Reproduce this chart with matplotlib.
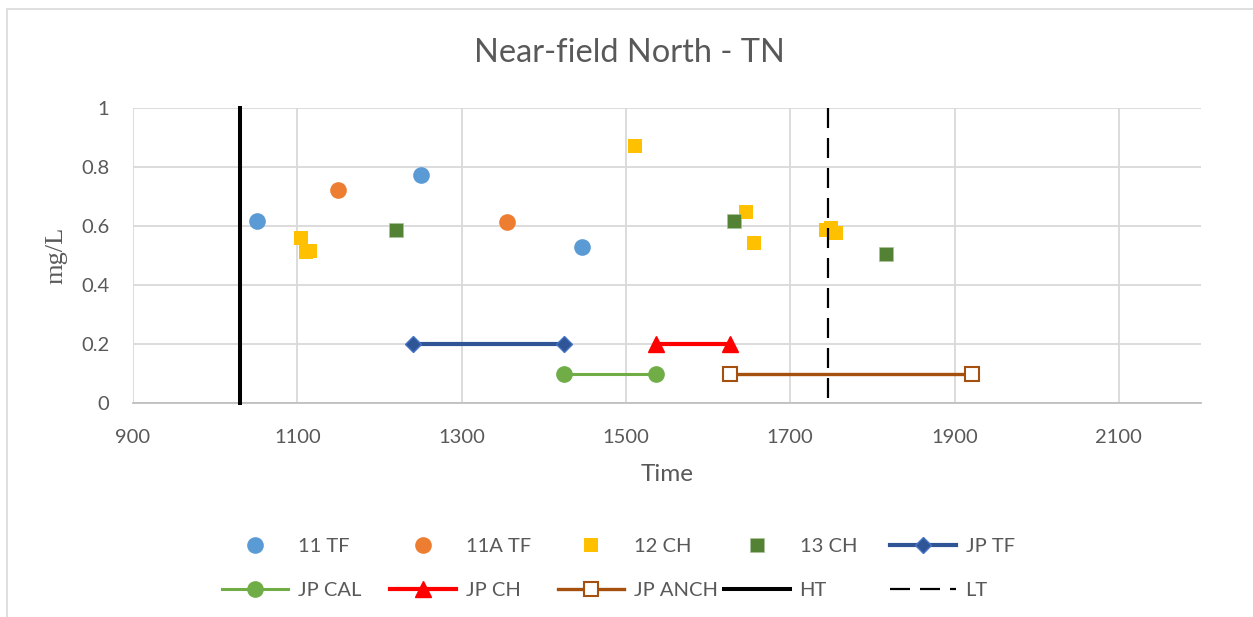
import matplotlib
matplotlib.use("Agg")
import matplotlib.pyplot as plt
from matplotlib.patches import Rectangle

plt.rcParams['font.family'] = ['Lato', 'DejaVu Sans']

# data
tf11_x = [1051, 1250, 1446]
tf11_y = [0.618, 0.773, 0.530]
tf11a_x = [1150, 1355]
tf11a_y = [0.722, 0.615]
ch12_x = [1105, 1110, 1115, 1511, 1646, 1656, 1743, 1750, 1756]
ch12_y = [0.558, 0.513, 0.515, 0.872, 0.646, 0.541, 0.585, 0.592, 0.577]
ch13_x = [1220, 1631, 1816]
ch13_y = [0.585, 0.617, 0.505]
jp_tf_x = [1241, 1425]
jp_tf_y = [0.2, 0.2]
jp_cal_x = [1425, 1537]
jp_cal_y = [0.1, 0.1]
jp_ch_x = [1537, 1627]
jp_ch_y = [0.2, 0.2]
jp_anch_x = [1627, 1921]
jp_anch_y = [0.1, 0.1]
ht_x = [1030, 1030]
ht_y = [0, 1]
lt_x = [1746, 1746]
lt_y = [1, 0]

xticks = [900, 1100, 1300, 1500, 1700, 1900, 2100]
yticks = [0, 0.2, 0.4, 0.6, 0.8, 1]
ytick_labels = ['0', '0.2', '0.4', '0.6', '0.8', '1']

TXT = '#595959'
W, H = 1253, 617

fig = plt.figure(figsize=(W / 100, H / 100), dpi=100)
ax = fig.add_axes([133 / W, 1 - 403 / H, (1201 - 133) / W, (403 - 108) / H])

h_tf11, = ax.plot(tf11_x, tf11_y, 'o', color='#5B9BD5', ms=12, mew=0, zorder=3)
h_tf11a, = ax.plot(tf11a_x, tf11a_y, 'o', color='#ED7D31', ms=12, mew=0, zorder=3)
h_ch12, = ax.plot(ch12_x, ch12_y, 's', color='#FFC000', ms=10.5, mew=0, zorder=3)
h_ch13, = ax.plot(ch13_x, ch13_y, 's', color='#548235', ms=10.5, mec='#A9C49A', mew=0.5, zorder=3)
h_jptf, = ax.plot(jp_tf_x, jp_tf_y, '-D', color='#2F5597', lw=3, ms=8.5,
                  mfc='#2F5597', mec='#4472C4', mew=1, zorder=3)
h_jpcal, = ax.plot(jp_cal_x, jp_cal_y, '-o', color='#70AD47', lw=2.2, ms=11, zorder=3)
h_jpch, = ax.plot(jp_ch_x, jp_ch_y, '-^', color='#FF0000', lw=3, ms=11, zorder=3)
h_jpanch, = ax.plot(jp_anch_x, jp_anch_y, '-s', color='#A5500F', lw=2.4, ms=9.5,
                    mfc='white', mec='#A5500F', mew=1.5, zorder=3)
h_ht, = ax.plot(ht_x, ht_y, '-', color='black', lw=2.9, zorder=4, clip_on=False)
h_lt, = ax.plot(lt_x, lt_y, '-', color='black', lw=1.6, dashes=(9, 4.5), zorder=4, clip_on=False)

ax.set_xlim(900, 2200)
ax.set_ylim(0, 1)
ax.set_xticks(xticks)
ax.set_yticks(yticks)
ax.set_yticklabels(ytick_labels)
ax.grid(True, color='#D9D9D9', lw=1.3)
ax.set_axisbelow(True)
for s in ['top', 'right', 'left']:
    ax.spines[s].set_visible(False)
ax.spines['bottom'].set_color('#BFBFBF')
ax.spines['bottom'].set_linewidth(1.3)
ax.tick_params(length=0, labelsize=14.5, colors=TXT)
ax.tick_params(axis='x', pad=18.5)
ax.tick_params(axis='y', pad=17)

ax.set_xlabel('Time', fontsize=17.5, color=TXT, labelpad=13)
ax.set_ylabel('mg/L', fontsize=19, color=TXT, family='Liberation Serif', labelpad=10)

fig.text(0.5025, 1 - 53 / H, 'Near-field North - TN', ha='center', va='center',
         fontsize=23.5, color=TXT)

# chart area border
fig.patches.append(Rectangle((7 / W, -0.1), 2, 1 - 9 / H + 0.1, transform=fig.transFigure,
                             fill=False, edgecolor='#D9D9D9', lw=1.2))

# legend, one column per legend object for Excel-like even spacing
cols = [
    [(h_tf11, '11 TF'), (h_jpcal, 'JP CAL')],
    [(h_tf11a, '11A TF'), (h_jpch, 'JP CH')],
    [(h_ch12, '12 CH'), (h_jpanch, 'JP ANCH')],
    [(h_ch13, '13 CH'), (h_ht, 'HT')],
    [(h_jptf, 'JP TF'), (h_lt, 'LT')],
]
col_x = [222, 390, 558, 724, 890]
for cx, col in zip(col_x, cols):
    leg = fig.legend([c[0] for c in col], [c[1] for c in col], loc='center left',
                     bbox_to_anchor=(cx / W, 1 - 568.5 / H), frameon=False,
                     fontsize=14.5, handlelength=3.3, handletextpad=0.45,
                     labelspacing=1.3, borderpad=0, borderaxespad=0, numpoints=1)
    for t in leg.get_texts():
        t.set_color(TXT)

fig.savefig('out.png', dpi=100)
